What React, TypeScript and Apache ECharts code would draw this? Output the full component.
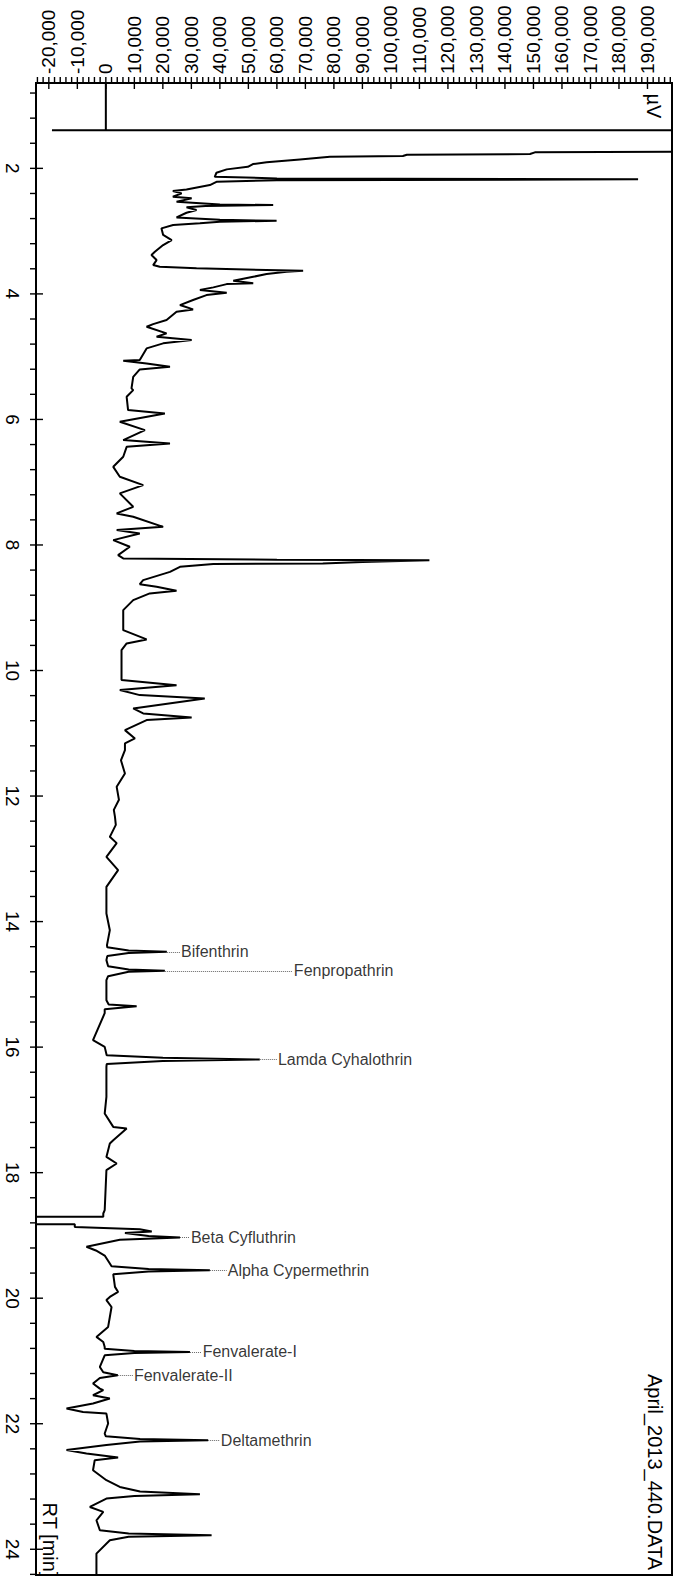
import React, { useEffect, useRef } from "react";
import * as echarts from "echarts";

// Chromatogram trace: retention time (min) and detector signal (µV)
const rtMin = [
  0.64, 1.39, 1.392, 1.397, 1.68, 1.735, 1.745, 1.772, 1.783, 1.804, 1.815, 1.857, 1.904, 1.931, 1.975,
  2.016, 2.07, 2.134, 2.16, 2.175, 2.19, 2.214, 2.266, 2.335, 2.362, 2.398, 2.452, 2.478, 2.532, 2.575,
  2.585, 2.6, 2.621, 2.664, 2.707, 2.781, 2.82, 2.835, 2.85, 2.876, 2.903, 2.956, 3.06, 3.142, 3.222,
  3.329, 3.381, 3.461, 3.541, 3.568, 3.593, 3.632, 3.648, 3.684, 3.727, 3.791, 3.832, 3.844, 3.896, 3.939,
  3.982, 4.019, 4.098, 4.178, 4.247, 4.285, 4.417, 4.481, 4.524, 4.629, 4.683, 4.735, 4.788, 4.868, 5.054,
  5.066, 5.107, 5.161, 5.203, 5.321, 5.505, 5.533, 5.639, 5.851, 5.904, 6.038, 6.17, 6.329, 6.382, 6.436,
  6.595, 6.755, 6.914, 7.046, 7.178, 7.392, 7.497, 7.551, 7.711, 7.763, 7.816, 7.923, 8.029, 8.162, 8.214,
  8.235, 8.245, 8.27, 8.294, 8.305, 8.348, 8.428, 8.56, 8.624, 8.667, 8.73, 8.772, 8.879, 9.038, 9.357,
  9.505, 9.569, 9.675, 10.153, 10.233, 10.312, 10.392, 10.445, 10.604, 10.684, 10.748, 10.79, 10.95, 11.082, 11.162,
  11.27, 11.43, 11.58, 11.64, 11.853, 12.06, 12.22, 12.331, 12.46, 12.65, 12.75, 12.969, 13.181, 13.447, 13.871,
  14.137, 14.376, 14.41, 14.46, 14.482, 14.5, 14.55, 14.614, 14.71, 14.765, 14.785, 14.8, 14.87, 14.934, 15.253,
  15.32, 15.348, 15.395, 15.459, 15.889, 15.996, 16.13, 16.17, 16.197, 16.22, 16.27, 16.315, 16.793, 17.058, 17.271,
  17.296, 17.483, 17.535, 17.749, 17.854, 17.961, 18.598, 18.651, 18.703, 18.705, 18.82, 18.821, 18.864, 18.9, 18.937,
  18.96, 19.01, 19.034, 19.07, 19.18, 19.24, 19.32, 19.447, 19.49, 19.535, 19.554, 19.575, 19.62, 19.82, 19.9,
  19.98, 20.03, 20.14, 20.3, 20.458, 20.617, 20.697, 20.777, 20.805, 20.84, 20.856, 20.875, 20.91, 21.095, 21.18,
  21.228, 21.27, 21.36, 21.44, 21.466, 21.546, 21.599, 21.678, 21.758, 21.812, 21.838, 21.997, 22.156, 22.2, 22.245,
  22.263, 22.285, 22.34, 22.42, 22.475, 22.539, 22.581, 22.741, 22.9, 23.007, 23.08, 23.124, 23.15, 23.192, 23.326,
  23.405, 23.538, 23.697, 23.75, 23.777, 23.8, 23.857, 24.069, 24.41,
];

const signalUV = [
  0, 0, -18900, 400000, 400000, 198600, 150500, 148800, 105600, 104200, 78600, 68100, 56400, 51600, 49800,
  42400, 38800, 38200, 60000, 186700, 60000, 38800, 36500, 28300, 23500, 26600, 23500, 30100, 24800, 40000,
  58700, 35000, 28300, 31800, 28300, 24800, 40000, 59900, 40000, 33000, 23600, 19500, 20100, 23100, 20100,
  17200, 16000, 17800, 16600, 18900, 31800, 69200, 63400, 56400, 51700, 44700, 51700, 42400, 37700, 33000,
  42400, 35300, 30600, 26000, 30600, 24800, 21300, 16600, 14300, 21300, 17800, 30100, 20100, 14300, 11900,
  6100, 14300, 22500, 11900, 9600, 9000, 9600, 7300, 7800, 20700, 4900, 13700, 6100, 22500, 7300,
  6100, 2600, 4900, 13100, 4900, 9600, 3800, 9600, 20100, 3800, 11900, 2600, 8400, 4300, 6100,
  60000, 113500, 90000, 76100, 37700, 26000, 22500, 13100, 11900, 17800, 24800, 15400, 9600, 6100, 6100,
  14300, 7300, 5500, 5500, 24800, 4900, 11900, 34700, 9600, 13100, 30100, 14300, 6700, 10200, 6700,
  6700, 5300, 6300, 6700, 3800, 4600, 2800, 3200, 3500, 1400, 3800, 200, 4300, 200, 200,
  1400, 400, 500, 8000, 21400, 8000, 500, 200, 800, 8000, 20700, 8000, 800, 200, 200,
  1000, 10800, -400, -400, -4500, -400, 300, 20000, 54000, 20000, 300, 200, 200, -400, 2600,
  7300, 2600, 1400, 200, 3800, 200, -400, -900, -900, -60000, -60000, -10900, -10900, 11900, 16100,
  6700, 15000, 26000, 4900, -6800, -3500, -400, 1400, 2000, 15000, 36500, 15000, 2600, 3200, 4300,
  1400, 200, 2000, 1400, 800, -3300, -900, -400, -400, 10000, 29500, 10000, -400, -2100, -900,
  4200, -2100, -4500, -2100, -900, -4500, 1400, -4500, -13800, -8000, 200, 800, -400, 0, 12000,
  35900, 12000, 200, -13800, -6800, 4300, -3900, -4500, 200, 4900, 12000, 33000, 10000, 200, -5600,
  -900, -3300, -2100, 8000, 37100, 8000, 1400, -3300, -3300,
];

// Identified peaks
const peakNames = [
  "Bifenthrin",
  "Fenpropathrin",
  "Lamda Cyhalothrin",
  "Beta Cyfluthrin",
  "Alpha Cypermethrin",
  "Fenvalerate-I",
  "Fenvalerate-II",
  "Deltamethrin",
];
const peakRt = [14.482, 14.785, 16.197, 19.034, 19.554, 20.856, 21.228, 22.263];
const peakHeightUV = [21400, 20700, 54000, 26000, 36500, 29500, 4200, 35900];
const labelStartUV = [26000, 65600, 60000, 29500, 42400, 33600, 9500, 40000];

// Axis ranges and tick values
const UV_MIN = -24500;
const UV_MAX = 198600;
const RT_MIN = 0.64;
const RT_MAX = 24.41;
const uvMajorTicks = [
  -20000, -10000, 0, 10000, 20000, 30000, 40000, 50000, 60000, 70000, 80000, 90000, 100000, 110000,
  120000, 130000, 140000, 150000, 160000, 170000, 180000, 190000,
];
const rtMajorTicks = [2, 4, 6, 8, 10, 12, 14, 16, 18, 20, 22, 24];
const UV_MINOR_STEP = 2000;
const RT_MINOR_STEP = 0.4;

function stepTicks(from: number, to: number, step: number): number[] {
  const out: number[] = [];
  for (let i = Math.ceil(from / step); i * step <= to + 1e-9; i++) {
    out.push(Number((i * step).toFixed(4)));
  }
  return out;
}

const FONT = "'Liberation Sans', Arial, sans-serif";
const TICK_OUT = 6;
const TICK_IN = 6;
const TICK_COLOR = "#000";

export default function App() {
  const ref = useRef<HTMLDivElement>(null);

  useEffect(() => {
    if (!ref.current) return;
    const chart = echarts.init(ref.current, undefined, { renderer: "svg" });

    const trace = rtMin.map((t, i) => [signalUV[i], t]);
    const isMajor = (list: number[], v: number) => list.some((m) => Math.abs(m - v) < 1e-6);
    const uvTicks = stepTicks(UV_MIN, UV_MAX, UV_MINOR_STEP).map((v) => [v, RT_MIN, isMajor(uvMajorTicks, v) ? 1 : 0]);
    const rtTicks = stepTicks(RT_MIN, RT_MAX, RT_MINOR_STEP).map((t) => [UV_MIN, t, isMajor(rtMajorTicks, t) ? 1 : 0]);

    const option: any = {
      animation: false,
      backgroundColor: "#fff",
      textStyle: { fontFamily: FONT },
      grid: {
        left: 36,
        top: 83,
        right: 2,
        bottom: 2,
        show: true,
        borderColor: "#000",
        borderWidth: 2,
      },
      xAxis: {
        type: "value",
        position: "top",
        min: UV_MIN,
        max: UV_MAX,
        splitLine: { show: false },
        axisLine: { show: true, onZero: false, lineStyle: { color: "#000", width: 2 } },
        axisTick: { show: false },
        axisLabel: {
          customValues: uvMajorTicks,
          rotate: -90,
          fontSize: 19,
          color: "#000",
          fontFamily: FONT,
          margin: 9,
          formatter: (v: number) => v.toLocaleString("en-US"),
        },
      },
      yAxis: {
        type: "value",
        position: "left",
        inverse: true,
        min: RT_MIN,
        max: RT_MAX,
        splitLine: { show: false },
        axisLine: { show: true, onZero: false, lineStyle: { color: "#000", width: 2 } },
        axisTick: { show: false },
        axisLabel: {
          customValues: rtMajorTicks,
          rotate: -90,
          fontSize: 19,
          color: "#000",
          fontFamily: FONT,
          margin: 14,
        },
      },
      series: [
        {
          type: "line",
          data: trace,
          showSymbol: false,
          symbol: "none",
          clip: true,
          lineStyle: { color: "#000", width: 2 },
          silent: true,
          z: 3,
        },
        // tick marks of the µV axis (minor outside, major crossing the axis line)
        {
          type: "custom",
          clip: false,
          silent: true,
          z: 5,
          data: uvTicks,
          renderItem: (_p: any, api: any) => {
            const pt = api.coord([api.value(0), api.value(1)]);
            const major = api.value(2) === 1;
            return {
              type: "line",
              shape: { x1: pt[0], y1: pt[1] - TICK_OUT, x2: pt[0], y2: pt[1] + (major ? TICK_IN : 0) },
              style: { stroke: TICK_COLOR, lineWidth: 1.4 },
            };
          },
        },
        // tick marks of the RT axis
        {
          type: "custom",
          clip: false,
          silent: true,
          z: 5,
          data: rtTicks,
          renderItem: (_p: any, api: any) => {
            const pt = api.coord([api.value(0), api.value(1)]);
            const major = api.value(2) === 1;
            return {
              type: "line",
              shape: { x1: pt[0] - TICK_OUT, y1: pt[1], x2: pt[0] + (major ? TICK_IN + 1 : 0), y2: pt[1] },
              style: { stroke: TICK_COLOR, lineWidth: 1.4 },
            };
          },
        },
        {
          type: "scatter",
          symbolSize: 0,
          silent: true,
          data: peakNames.map((name, i) => ({ name, value: [labelStartUV[i], peakRt[i]] })),
          label: {
            show: true,
            position: "right",
            distance: 1,
            formatter: (p: any) => p.name,
            fontSize: 16,
            color: "#000",
            fontFamily: FONT,
          },
          markLine: {
            silent: true,
            symbol: ["none", "none"],
            label: { show: false },
            lineStyle: { color: "#666", width: 1, type: "dotted" },
            data: peakNames.map((_, i) => [
              { coord: [peakHeightUV[i], peakRt[i]] },
              { coord: [labelStartUV[i], peakRt[i]] },
            ]),
          },
        },
      ],
      graphic: [
        {
          type: "text",
          x: 654,
          y: 106,
          rotation: -Math.PI / 2,
          style: {
            text: "µV",
            font: `20px ${FONT}`,
            fill: "#000",
            align: "center",
            verticalAlign: "middle",
          },
        },
        {
          type: "text",
          x: 50,
          y: 1540,
          rotation: -Math.PI / 2,
          style: {
            text: "RT [min]",
            font: `20px ${FONT}`,
            fill: "#000",
            align: "center",
            verticalAlign: "middle",
          },
        },
        {
          type: "text",
          x: 655,
          y: 1472,
          rotation: -Math.PI / 2,
          style: {
            text: "April_2013_440.DATA",
            font: `20px ${FONT}`,
            fill: "#000",
            align: "center",
            verticalAlign: "middle",
          },
        },
      ],
    };

    chart.setOption(option);
    return () => chart.dispose();
  }, []);

  return (
    <div
      ref={ref}
      style={{ position: "absolute", left: 0, top: 0, width: 674, height: 1577, background: "#fff" }}
    />
  );
}
